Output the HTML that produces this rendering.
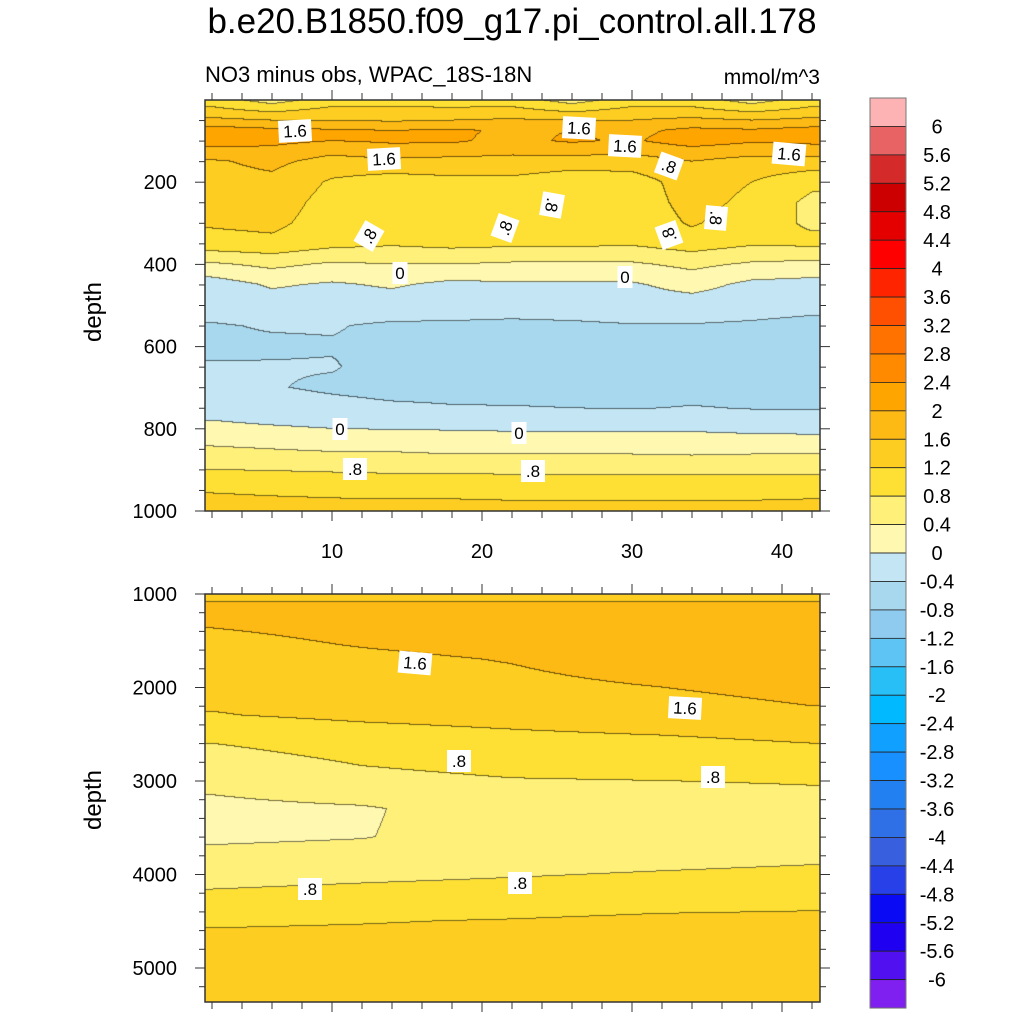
<!DOCTYPE html>
<html><head><meta charset="utf-8">
<style>
body{margin:0;background:#fff;width:1024px;height:1024px;overflow:hidden;position:relative;font-family:"Liberation Sans",sans-serif}
canvas{position:absolute}
svg{position:absolute;left:0;top:0}
.t{position:absolute;white-space:nowrap;color:#000}
</style></head><body>
<div class="t" style="left:0;width:1024px;text-align:center;top:2px;font-size:35px">b.e20.B1850.f09_g17.pi_control.all.178</div>
<div class="t" style="left:205px;top:62px;font-size:22px">NO3 minus obs, WPAC_18S-18N</div>
<div class="t" style="left:820px;transform:translateX(-100%);top:66px;font-size:21px">mmol/m^3</div>
<canvas id="c1" width="615" height="411" style="left:205px;top:100px"></canvas>
<canvas id="c2" width="615" height="408" style="left:205px;top:594px"></canvas>
<svg id="ov" width="1024" height="1024"></svg>
<script>
// ---- data ----
const levelStep = 0.4;
const cbColorsTopDown = ["#fdb3b3","#e86464","#d42a2a","#cc0000","#e50000","#ff0000","#ff2400","#ff4f00","#ff7200","#ff8a00","#ffa500","#fdb914","#fdcd22","#fde033","#fff07a","#fff8b0","#c4e6f4","#a8d8ee","#8ecbee","#5ec4f4","#28bff7","#00b9ff","#10a0ff","#1890ff","#2280f0","#3070e6","#3860de","#2840e8","#0a0af5","#2000f0","#5010f0","#8020f0"];
const cbLabels = ["6","5.6","5.2","4.8","4.4","4","3.6","3.2","2.8","2.4","2","1.6","1.2","0.8","0.4","0","-0.4","-0.8","-1.2","-1.6","-2","-2.4","-2.8","-3.2","-3.6","-4","-4.4","-4.8","-5.2","-5.6","-6"];

const topCols = [2,6,10,14,18,22,26,30,34,38,42];
const topDepths = [0,25,50,75,100,125,150,200,250,300,350,400,450,500,550,600,650,700,750,800,850,900,950,1000];
const topVals = [
[1.0,0.6,1.0,1.0,0.9,1.0,0.6,1.0,1.0,0.6,1.0],
[1.3,1.1,1.3,1.3,1.3,1.3,1.1,1.3,1.3,1.1,1.3],
[1.7,1.6,1.6,1.55,1.6,1.65,1.6,1.6,1.7,1.6,1.7],
[2.2,2.1,2.05,2.0,2.05,1.95,2.0,1.9,2.1,2.05,2.15],
[2.15,2.1,2.0,2.05,2.05,1.9,2.05,1.95,2.2,2.05,2.1],
[1.9,1.9,1.7,1.85,1.8,1.7,1.75,1.7,1.85,1.75,1.8],
[1.55,1.7,1.45,1.5,1.45,1.45,1.4,1.4,1.6,1.45,1.45],
[1.45,1.5,1.15,1.0,1.1,1.1,0.95,1.0,1.4,1.2,0.9],
[1.3,1.4,1.05,1.0,1.0,1.0,1.0,0.95,1.35,1.1,0.7],
[1.25,1.3,1.0,0.9,1.0,0.9,0.95,0.9,1.25,0.95,0.75],
[1.05,1.1,0.92,0.85,0.92,0.88,0.88,0.85,1.0,0.85,0.88],
[0.35,0.5,0.35,0.4,0.4,0.35,0.35,0.35,0.5,0.35,0.3],
[-0.2,0.05,-0.05,0.05,-0.1,-0.05,-0.05,-0.05,0.15,-0.1,-0.15],
[-0.3,-0.2,-0.2,-0.2,-0.25,-0.3,-0.25,-0.2,-0.2,-0.25,-0.3],
[-0.42,-0.38,-0.38,-0.45,-0.45,-0.45,-0.45,-0.42,-0.42,-0.45,-0.5],
[-0.45,-0.44,-0.42,-0.45,-0.55,-0.6,-0.55,-0.55,-0.55,-0.55,-0.55],
[-0.38,-0.38,-0.38,-0.5,-0.55,-0.6,-0.6,-0.62,-0.6,-0.55,-0.55],
[-0.36,-0.38,-0.45,-0.5,-0.5,-0.55,-0.55,-0.55,-0.55,-0.5,-0.5],
[-0.15,-0.25,-0.3,-0.35,-0.38,-0.38,-0.4,-0.42,-0.38,-0.42,-0.42],
[0.1,0.05,0.0,-0.02,-0.03,-0.05,-0.05,-0.05,-0.05,-0.1,-0.12],
[0.45,0.4,0.35,0.35,0.3,0.3,0.3,0.3,0.28,0.3,0.3],
[0.8,0.78,0.75,0.72,0.72,0.7,0.7,0.7,0.68,0.7,0.7],
[1.18,1.16,1.15,1.14,1.14,1.12,1.12,1.12,1.12,1.12,1.14],
[1.32,1.3,1.28,1.28,1.28,1.28,1.28,1.28,1.28,1.28,1.28]];

const botCols = [2,12,22,32,42];
const botDepths = [1000,1100,1300,1500,1700,2000,2300,2600,3000,3300,3600,3900,4200,4500,4800,5400];
const botVals = [
[1.5,1.5,1.5,1.5,1.5],
[1.62,1.62,1.62,1.62,1.62],
[1.65,1.75,1.8,1.85,1.9],
[1.5,1.65,1.75,1.85,1.9],
[1.42,1.52,1.62,1.8,1.85],
[1.32,1.42,1.5,1.6,1.7],
[1.18,1.28,1.35,1.45,1.55],
[0.8,0.95,1.05,1.1,1.2],
[0.5,0.7,0.78,0.8,0.82],
[0.3,0.36,0.6,0.65,0.7],
[0.32,0.38,0.6,0.65,0.7],
[0.6,0.65,0.7,0.75,0.8],
[0.83,0.88,0.92,0.98,1.02],
[1.15,1.18,1.22,1.28,1.3],
[1.35,1.35,1.36,1.36,1.37],
[1.35,1.35,1.36,1.36,1.37]];

const xTicks = [10,20,30,40];
const topDepthTicks = [200,400,600,800,1000];
const botDepthTicks = [1000,2000,3000,4000,5000];

// ---- scales ----
const PX0=205, PX1=820;
const xScale = x => 182 + 15*x;
const xInv = px => (px-182)/15;
const topY = d => 100 + d*0.411;
const topYInv = y => (y-100)/0.411;
const botY = d => 594 + (d-1000)*0.0935;
const botYInv = y => (y-594)/0.0935 + 1000;

const cbBottomUp = cbColorsTopDown.slice().reverse().map(h=>[parseInt(h.slice(1,3),16),parseInt(h.slice(3,5),16),parseInt(h.slice(5,7),16)]);
function levelIdx(v){let i=Math.floor(v/levelStep)+16;return Math.max(0,Math.min(31,i));}
function seg(arr,v){let i=0;while(i<arr.length-2&&v>arr[i+1])i++;let t=(v-arr[i])/(arr[i+1]-arr[i]);return [i,Math.max(0,Math.min(1,t))];}
function interp(cols,deps,vals,x,d){const [i,tx]=seg(cols,x);const [j,ty]=seg(deps,d);
 const a=vals[j][i],b=vals[j][i+1],c=vals[j+1][i],e=vals[j+1][i+1];
 return (a*(1-tx)+b*tx)*(1-ty)+(c*(1-tx)+e*tx)*ty;}
function render(id,cols,deps,vals,top,yInv){
 const cv=document.getElementById(id),ctx=cv.getContext('2d'),W=cv.width,H=cv.height;
 const img=ctx.createImageData(W,H);const L=new Int8Array(W*H);
 for(let y=0;y<H;y++)for(let x=0;x<W;x++){const v=interp(cols,deps,vals,xInv(PX0+x+0.5),yInv(top+y+0.5));L[y*W+x]=levelIdx(v);}
 for(let y=0;y<H;y++)for(let x=0;x<W;x++){const k=y*W+x;let c=cbBottomUp[L[k]];
  const edge=(x<W-1&&L[k+1]!==L[k])||(y<H-1&&L[k+W]!==L[k]);
  if(edge)c=[c[0]*0.45,c[1]*0.45,c[2]*0.45];
  img.data[k*4]=c[0];img.data[k*4+1]=c[1];img.data[k*4+2]=c[2];img.data[k*4+3]=255;}
 ctx.putImageData(img,0,0);}
render('c1',topCols,topDepths,topVals,100,topYInv);
render('c2',botCols,botDepths,botVals,594,botYInv);

// ---- overlay ----
const ov=document.getElementById('ov');const NS='http://www.w3.org/2000/svg';
function mk(tag,at,parent){const e=document.createElementNS(NS,tag);for(const k in at)e.setAttribute(k,at[k]);(parent||ov).appendChild(e);return e;}
function line(x1,y1,x2,y2,w){return mk('line',{x1,y1,x2,y2,stroke:'#333','stroke-width':w||1});}
function txt(x,y,s,size,anchor){const t=mk('text',{x,y,'font-size':size,'text-anchor':anchor||'middle','font-family':'Liberation Sans, sans-serif',fill:'#000'});t.textContent=s;return t;}
function frame(y0,y1,name){const r=mk('rect',{x:PX0,y:y0,width:PX1-PX0,height:y1-y0,fill:'none',stroke:'#333','stroke-width':1.5});
 
 }
frame(100,511,'upper-plot-frame');frame(594,1002,'lower-plot-frame');
for(let x=2;x<=42;x+=2){const px=xScale(x);const maj=x%10===0;const l=maj?10:7;
 line(px,511,px,511+l);line(px,100,px,100-l);line(px,594,px,594-l);line(px,1002,px,1002+l);}
xTicks.forEach(v=>{const t=txt(xScale(v),558,String(v),20);
 
 });
for(let d=50;d<=1000;d+=50){const y=topY(d);const l=d%200===0?10:6;line(PX0,y,PX0-l,y);line(PX1,y,PX1+l,y);}
topDepthTicks.forEach(d=>{const t=txt(177,topY(d)+7,String(d),20,'end');
 
 });
for(let d=1000;d<=5300;d+=200){const y=botY(d);const l=d%1000===0?10:6;line(PX0,y,PX0-l,y);line(PX1,y,PX1+l,y);}
botDepthTicks.forEach(d=>{const t=txt(177,botY(d)+7,String(d),20,'end');
 
 });
[[312,'upper-y-axis-title'],[800,'lower-y-axis-title']].forEach(([y,n])=>{const t=txt(0,0,'depth',24);t.setAttribute('transform',`translate(101,${y}) rotate(-90)`);
 
 });
const cLabels=[["1.6",295,131,-3],["1.6",579,128,3],["1.6",625,146,3],["1.6",384,159,-3],["1.6",789,154,5],
[".8",669,166,20],[".8",552,205,100],[".8",505,228,-70],[".8",369,236,-60],[".8",669,235,-110],[".8",716,218,95],
["0",400,273,0],["0",625,277,0],["0",340,429,0],["0",519,433,0],[".8",355,469,0],[".8",533,471,0],
["1.6",415,663,5],["1.6",685,708,3],[".8",459,761,0],[".8",713,777,0],[".8",310,889,0],[".8",520,883,0]];
cLabels.forEach(([s,x,y,r])=>{const g=mk('g',{transform:`translate(${x},${y}) rotate(${r})`});
 
 
 const w=s.length*9+6;mk('rect',{x:-w/2,y:-11,width:w,height:22,fill:'#fff'},g);
 const t=mk('text',{x:0,y:6,'font-size':17,'text-anchor':'middle','font-family':'Liberation Sans, sans-serif'},g);t.textContent=s;});
const cbTop=98,cbH=28.44;
cbColorsTopDown.forEach((c,i)=>{const r=mk('rect',{x:870,y:cbTop+i*cbH,width:36,height:cbH,fill:c,stroke:'#222','stroke-width':0.8});
 
 });
mk('rect',{x:870,y:cbTop,width:36,height:cbH*32,fill:'none',stroke:'#777','stroke-width':1});
cbLabels.forEach((s,i)=>{const t=txt(937,cbTop+(i+1)*cbH+7,s,20);
 
 });
</script>
</body></html>
